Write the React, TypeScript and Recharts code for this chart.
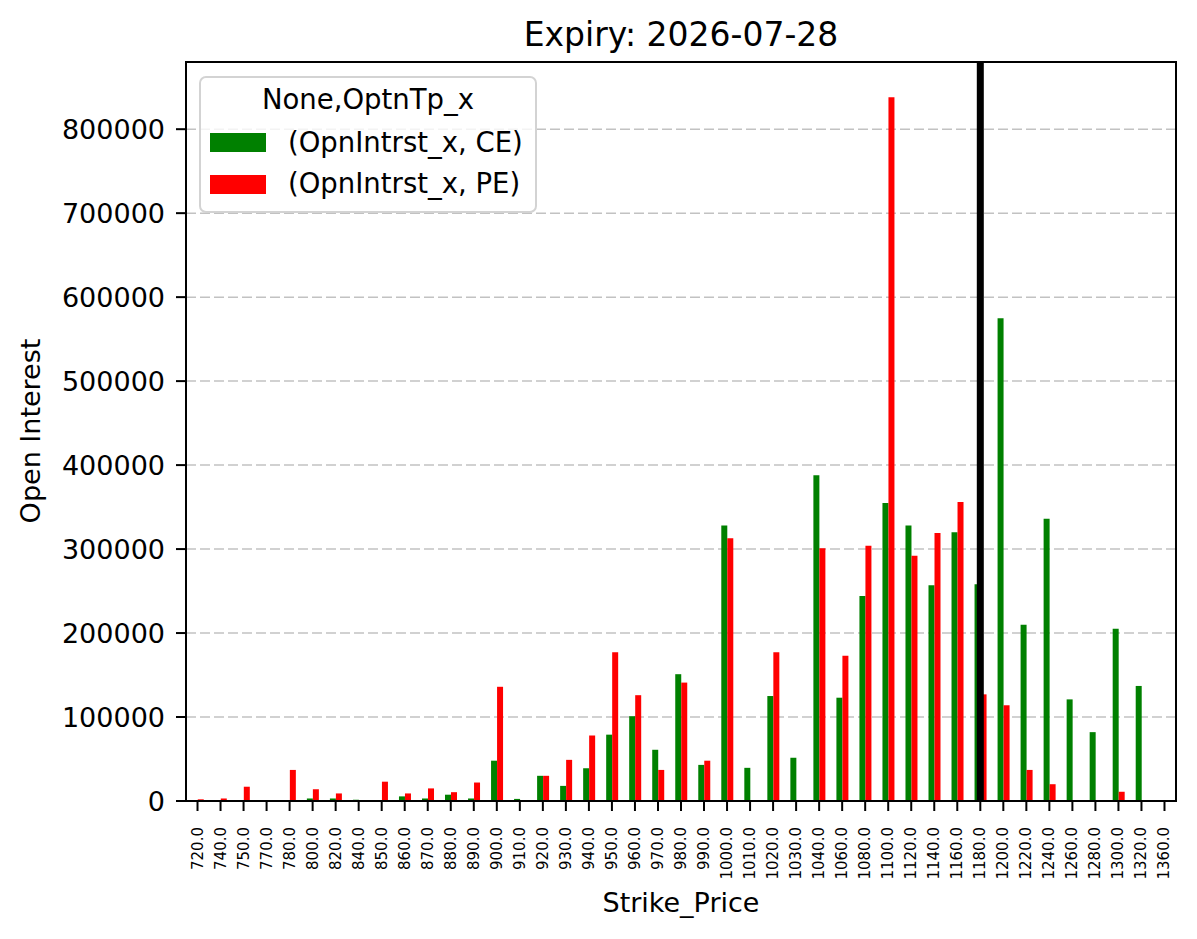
import { BarChart, Bar, XAxis, YAxis, CartesianGrid, ReferenceLine, Legend } from 'recharts';

const strikes = [
    '720.0', '740.0', '750.0', '770.0', '780.0', '800.0', '820.0', '840.0', '850.0', '860.0',
    '870.0', '880.0', '890.0', '900.0', '910.0', '920.0', '930.0', '940.0', '950.0', '960.0',
    '970.0', '980.0', '990.0', '1000.0', '1010.0', '1020.0', '1030.0', '1040.0', '1060.0', '1080.0',
    '1100.0', '1120.0', '1140.0', '1160.0', '1180.0', '1200.0', '1220.0', '1240.0', '1260.0', '1280.0',
    '1300.0', '1320.0', '1360.0',
];

// (OpnIntrst_x, CE)
const ceOI = [
    500, 0, 0, 0, 0, 3000, 3000, 1500, 0, 5500,
    3000, 7500, 3000, 48000, 2500, 30000, 18000, 39000, 79000, 101000,
    61000, 151000, 43000, 328000, 39500, 125000, 51500, 388000, 123000, 244000,
    355000, 328000, 257000, 320000, 258000, 575000, 210000, 336000, 121000, 82000,
    205000, 137000, 0,
];

// (OpnIntrst_x, PE)
const peOI = [
    2000, 3000, 17000, 0, 37000, 14000, 9000, 0, 23000, 9000,
    15000, 10500, 22000, 136000, 0, 30000, 49000, 78000, 177000, 126000,
    37000, 141000, 48000, 313000, 0, 177000, 0, 301000, 173000, 304000,
    838000, 292000, 319000, 356000, 127000, 114000, 37000, 20000, 0, 0,
    11000, 0, 0,
];

const yTicks = [0, 100000, 200000, 300000, 400000, 500000, 600000, 700000, 800000];
const spotStrike = '1180.0';

const data = strikes.map((s, i) => ({ strike: s, ce: ceOI[i], pe: peOI[i] }));

const FONT = 'DejaVu Sans, sans-serif';

const XTick = (props: any) => {
    const { x, y, payload } = props;
    return (
        <text
            x={x}
            y={y}
            transform={`rotate(-90, ${x}, ${y})`}
            textAnchor="end"
            dominantBaseline="central"
            fontSize={15}
            fontFamily={FONT}
            fill="#000">
            {payload.value}
        </text>
    );
};

const LegendBox = () => (
    <svg width={338} height={137} style={{ display: 'block' }}>
        <rect x={1} y={1} width={336} height={135} rx={6} fill="rgba(255,255,255,0.8)" stroke="#d3d3d3" strokeWidth={2} />
        <text x={169} y={33} textAnchor="middle" fontSize={27.5} fontFamily={FONT} fill="#000">None,OptnTp_x</text>
        <rect x={11} y={57} width={56} height={19} fill="#008000" />
        <text x={89} y={76} fontSize={27.5} fontFamily={FONT} fill="#000">(OpnIntrst_x, CE)</text>
        <rect x={11} y={99} width={56} height={19} fill="#ff0000" />
        <text x={89} y={117} fontSize={27.5} fontFamily={FONT} fill="#000">(OpnIntrst_x, PE)</text>
    </svg>
);

export default function App() {
    return (
        <div style={{ position: 'absolute', left: 0, top: 0, width: 1197, height: 939, background: '#fff', fontFamily: FONT }}>
            <BarChart
                width={1197}
                height={939}
                data={data}
                margin={{ top: 62, right: 21, bottom: 0, left: 0 }}
                barCategoryGap="25%"
                barGap={0}>
                <XAxis
                    dataKey="strike"
                    height={138}
                    interval={0}
                    axisLine={false}
                    tickSize={10}
                    tickMargin={16}
                    tickLine={{ stroke: '#000', strokeWidth: 2 }}
                    tick={<XTick />}
                />
                <YAxis
                    width={186}
                    domain={[0, 880000]}
                    ticks={yTicks}
                    allowDataOverflow
                    axisLine={false}
                    tickSize={10}
                    tickMargin={11}
                    tickLine={{ stroke: '#000', strokeWidth: 2 }}
                    tick={{ fontSize: 27, fill: '#000', fontFamily: FONT }}
                />
                <Bar dataKey="ce" fill="#008000" isAnimationActive={false} />
                <Bar dataKey="pe" fill="#ff0000" isAnimationActive={false} />
                <CartesianGrid vertical={false} stroke="#c2c2c2" strokeWidth={1.5} strokeDasharray="10 4" />
                <ReferenceLine x={spotStrike} stroke="#000" strokeWidth={7} />
                <Legend
                    layout="vertical"
                    align="center"
                    verticalAlign="middle"
                    content={() => <LegendBox />}
                    wrapperStyle={{ left: 199, top: 76, width: 338, height: 137 }}
                />
            </BarChart>
            <div
                style={{
                    position: 'absolute',
                    left: 185,
                    top: 61,
                    width: 992,
                    height: 741,
                    border: '2px solid #000',
                    boxSizing: 'border-box',
                    pointerEvents: 'none',
                }}
            />
            <svg width={1197} height={939} style={{ position: 'absolute', left: 0, top: 0, pointerEvents: 'none' }}>
                <text x={681} y={46} textAnchor="middle" fontSize={33} fontFamily={FONT} fill="#000">
                    Expiry: 2026-07-28
                </text>
                <text x={681} y={912} textAnchor="middle" fontSize={27} fontFamily={FONT} fill="#000">
                    Strike_Price
                </text>
                <text
                    x={40}
                    y={431}
                    transform="rotate(-90, 40, 431)"
                    textAnchor="middle"
                    fontSize={27}
                    fontFamily={FONT}
                    fill="#000">
                    Open Interest
                </text>
            </svg>
        </div>
    );
}
